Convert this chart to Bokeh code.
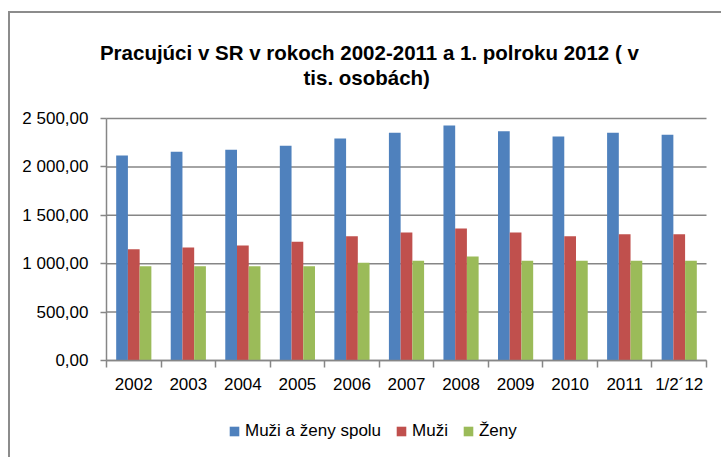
from bokeh.plotting import figure
from bokeh.models import FixedTicker, ColumnDataSource, Legend, LegendItem, Label
from bokeh.embed import file_html
from bokeh.resources import INLINE

categories = ["2002", "2003", "2004", "2005", "2006", "2007", "2008", "2009", "2010", "2011", "1/2\u00b412"]
spolu = [2118, 2156, 2177, 2218, 2293, 2352, 2428, 2369, 2314, 2352, 2331]
muzi = [1150, 1167, 1188, 1226, 1284, 1322, 1364, 1322, 1284, 1305, 1305]
zeny = [974, 974, 974, 974, 1009, 1030, 1074, 1030, 1030, 1030, 1030]
series_names = ["Mu\u017ei a \u017eeny spolu", "Mu\u017ei", "\u017deny"]
y_ticks = [0, 500, 1000, 1500, 2000, 2500]
y_tick_labels = ["0,00", "500,00", "1 000,00", "1 500,00", "2 000,00", "2 500,00"]
title_lines = ["Pracuj\u00faci v SR v rokoch 2002-2011 a 1. polroku 2012 ( v", "tis. osob\u00e1ch)"]

FONT = "Liberation Sans"
GRAY = "#868686"
colors = ["#4F81BD", "#C0504D", "#9BBB59"]

n = len(categories)
idx = list(range(n))
bw = 0.215
src = ColumnDataSource(dict(
    x0=[i - bw for i in idx], x1=idx, x2=[i + bw for i in idx],
    spolu=spolu, muzi=muzi, zeny=zeny,
))

# layout geometry (pixels): plot area 600 x 242, placed inside a 713 x 446 canvas
W, H = 713, 446
PL, PR, PT, PB = 96, 17, 105, 99
ux = 600 / n            # px per category
uy = 242 / 2500         # px per unit value
x_start = -0.5 - PL / ux
x_end = n - 0.5 + PR / ux
y_start = 0 - PB / uy
y_end = 2500 + PT / uy

p = figure(width=W, height=H, x_range=(x_start, x_end), y_range=(y_start, y_end),
           output_backend="svg", toolbar_location=None,
           min_border_left=0, min_border_right=0, min_border_top=0, min_border_bottom=0,
           styles={"border-left": "2px solid #8c8c8c", "border-top": "2px solid #8c8c8c",
                   "margin-top": "11px", "margin-left": "8px"})
p.outline_line_color = None
p.xgrid.grid_line_color = None
p.ygrid.grid_line_color = None

# horizontal gridlines at the value ticks
p.segment(x0=-0.5, x1=n - 0.5, y0=y_ticks, y1=y_ticks, line_color=GRAY, line_width=1.5)

r1 = p.vbar(x="x0", top="spolu", width=bw, source=src, fill_color=colors[0], line_color=None)
r2 = p.vbar(x="x1", top="muzi", width=bw, source=src, fill_color=colors[1], line_color=None)
r3 = p.vbar(x="x2", top="zeny", width=bw, source=src, fill_color=colors[2], line_color=None)

# x axis
xa = p.xaxis[0]
xa.fixed_location = 0
xa.bounds = (-0.5, n - 0.5)
xa.ticker = FixedTicker(ticks=idx, minor_ticks=[i - 0.5 for i in range(n + 1)])
xa.major_label_overrides = {i: c for i, c in zip(idx, categories)}
xa.major_tick_line_color = None
xa.major_tick_out = 0
xa.major_tick_in = 0
xa.minor_tick_out = 7
xa.minor_tick_in = 0
xa.minor_tick_line_color = GRAY
xa.minor_tick_line_width = 1.5
xa.axis_line_color = GRAY
xa.axis_line_width = 1.5
xa.major_label_text_font = FONT
xa.major_label_text_font_size = "17px"
xa.major_label_text_color = "#000000"
xa.major_label_standoff = 7

# y axis
ya = p.yaxis[0]
ya.fixed_location = -0.5
ya.bounds = (0, 2500)
ya.ticker = FixedTicker(ticks=y_ticks, minor_ticks=[])
ya.major_label_overrides = {t: l for t, l in zip(y_ticks, y_tick_labels)}
ya.major_tick_out = 6
ya.major_tick_in = 0
ya.major_tick_line_color = GRAY
ya.major_tick_line_width = 1.5
ya.axis_line_color = GRAY
ya.axis_line_width = 1.5
ya.major_label_text_font = FONT
ya.major_label_text_font_size = "17px"
ya.major_label_text_color = "#000000"
ya.major_label_standoff = 12

# title, two lines
p.add_layout(Label(x=4.32, y=2500 + 66 / uy, text=title_lines[0], text_align="center",
                   text_baseline="alphabetic", text_font=FONT, text_font_style="bold",
                   text_font_size="20.5px", text_color="#000000"))
p.add_layout(Label(x=4.27, y=2500 + 41 / uy, text=title_lines[1], text_align="center",
                   text_baseline="alphabetic", text_font=FONT, text_font_style="bold",
                   text_font_size="20.5px", text_color="#000000"))

legend = Legend(items=[LegendItem(label=series_names[0], renderers=[r1]),
                       LegendItem(label=series_names[1], renderers=[r2]),
                       LegendItem(label=series_names[2], renderers=[r3])],
                location=(218, 18), orientation="horizontal")
legend.padding = 0
legend.margin = 0
legend.border_line_color = None
legend.background_fill_alpha = 0
legend.glyph_width = 12
legend.glyph_height = 12
legend.label_standoff = 5
legend.spacing = 14
legend.label_text_font = FONT
legend.label_text_font_size = "17px"
legend.label_text_color = "#000000"
p.add_layout(legend)

open("out.html", "w").write(file_html(p, INLINE))
